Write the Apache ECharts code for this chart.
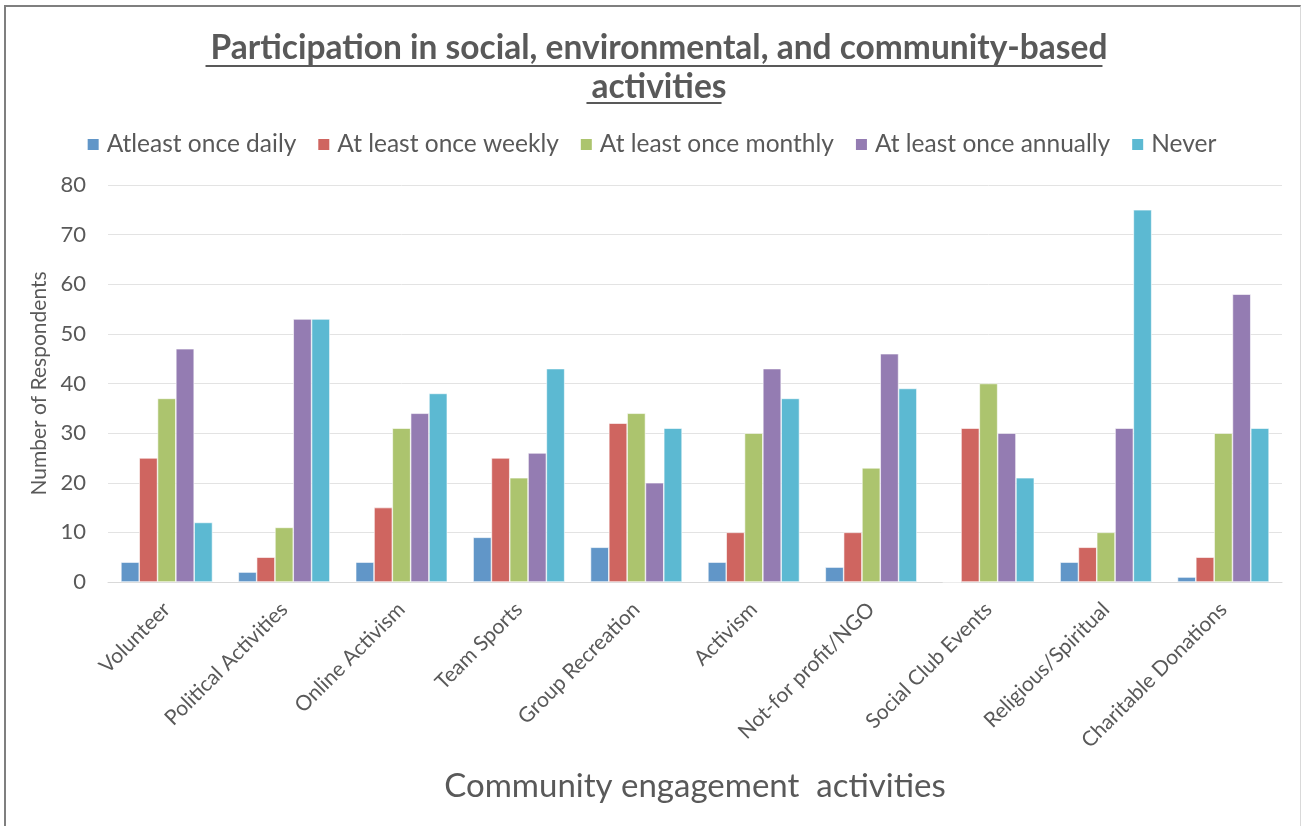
<!DOCTYPE html>
<html>
<head>
<meta charset="utf-8">
<title>Participation in social, environmental, and community-based activities</title>
<script src="https://cdn.jsdelivr.net/npm/echarts@6/dist/echarts.min.js"></script>
<style>
  html, body { margin: 0; padding: 0; background: #ffffff; }
  #chart { position: absolute; left: 0; top: 0; width: 1302px; height: 826px; }
  #frame {
    position: absolute; left: 4px; top: 5px; width: 1294px; height: 819px;
    border-top: 2px solid #7f7f7f; border-left: 2px solid #7f7f7f;
    border-right: 1px solid #d9d9d9; border-bottom: 1px solid #d9d9d9;
    pointer-events: none;
  }
</style>
</head>
<body>
<div id="chart"></div>
<div id="frame"></div>
<script>
// Activities surveyed (x axis)
const categories = [
  'Volunteer', 'Political Activities', 'Online Activism', 'Team Sports',
  'Group Recreation', 'Activism', 'Not-for profit/NGO', 'Social Club Events',
  'Religious/Spiritual', 'Charitable Donations'
];

// Frequency groups (legend order)
const seriesNames = [
  'Atleast once daily', 'At least once weekly', 'At least once monthly',
  'At least once annually', 'Never'
];

// Number of respondents per activity, one array per frequency group
const daily    = [4, 2, 4, 9, 7, 4, 3, 0, 4, 1];
const weekly   = [25, 5, 15, 25, 32, 10, 10, 31, 7, 5];
const monthly  = [37, 11, 31, 21, 34, 30, 23, 40, 10, 30];
const annually = [47, 53, 34, 26, 20, 43, 46, 30, 31, 58];
const never    = [12, 53, 38, 43, 31, 37, 39, 21, 75, 31];

// Value axis ticks
const yTicks = [0, 10, 20, 30, 40, 50, 60, 70, 80];

const titleLines = ['Participation in social, environmental, and community-based', 'activities'];

const palette = ['#6196C8', '#CF6560', '#ACC46E', '#947CB2', '#5CB9D2'];
const textColor = '#595959';
const fontFamily = 'Lato, "Open Sans", sans-serif';

const seriesValues = [daily, weekly, monthly, annually, never];

const chart = echarts.init(document.getElementById('chart'), null, { renderer: 'canvas' });

// Underlines beneath each title line, sized to the rendered text
const titleFontSize = 33.5;
const titleLineHeight = 39;
const measureCtx = document.createElement('canvas').getContext('2d');
measureCtx.font = 'bold ' + titleFontSize + 'px ' + fontFamily;
const underlineYs = [66, 103];
const underlines = titleLines.map((line, i) => {
  const w = measureCtx.measureText(line).width;
  return {
    type: 'line',
    silent: true,
    shape: { x1: 654 - w / 2, y1: underlineYs[i], x2: 654 + w / 2, y2: underlineYs[i] },
    style: { stroke: textColor, lineWidth: 2 }
  };
});

const option = {
  backgroundColor: '#ffffff',
  color: palette,
  animation: false,
  title: {
    text: titleLines.join('\n'),
    left: 654,
    textAlign: 'center',
    top: 24,
    textStyle: {
      fontFamily: fontFamily,
      fontSize: titleFontSize,
      fontWeight: 'bold',
      color: textColor,
      lineHeight: titleLineHeight
    }
  },
  legend: {
    data: seriesNames,
    top: 127,
    left: 'center',
    itemWidth: 13,
    itemHeight: 13,
    itemGap: 20,
    icon: 'rect',
    textStyle: {
      fontFamily: fontFamily,
      fontSize: 24.5,
      color: textColor,
      padding: [0, 0, 0, 2]
    }
  },
  grid: {
    left: 108,
    right: 20,
    top: 185,
    bottom: 244,
    containLabel: false
  },
  xAxis: {
    type: 'category',
    data: categories,
    name: 'Community engagement  activities',
    nameLocation: 'middle',
    nameGap: 188,
    nameTextStyle: {
      fontFamily: fontFamily,
      fontSize: 33,
      color: textColor
    },
    axisLine: { show: true, lineStyle: { color: '#d9d9d9', width: 1 } },
    axisTick: { show: false },
    axisLabel: {
      interval: 0,
      rotate: 45,
      margin: 24,
      fontFamily: fontFamily,
      fontSize: 21,
      color: textColor
    }
  },
  yAxis: {
    type: 'value',
    min: yTicks[0],
    max: yTicks[yTicks.length - 1],
    interval: yTicks[1] - yTicks[0],
    name: 'Number of Respondents',
    nameLocation: 'middle',
    nameGap: 50,
    nameRotate: 90,
    nameTextStyle: {
      fontFamily: fontFamily,
      fontSize: 21,
      color: textColor
    },
    axisLine: { show: false },
    axisTick: { show: false },
    axisLabel: {
      margin: 22,
      fontFamily: fontFamily,
      fontSize: 22,
      color: textColor
    },
    splitLine: { show: true, lineStyle: { color: '#e3e3e3', width: 1 } }
  },
  series: seriesNames.map((name, i) => ({
    name: name,
    type: 'bar',
    data: seriesValues[i],
    barGap: '0%',
    barCategoryGap: '22%',
    itemStyle: {
      color: palette[i],
      borderColor: '#ffffff',
      borderWidth: 0.6
    }
  })),
  graphic: underlines
};

chart.setOption(option);
</script>
</body>
</html>
